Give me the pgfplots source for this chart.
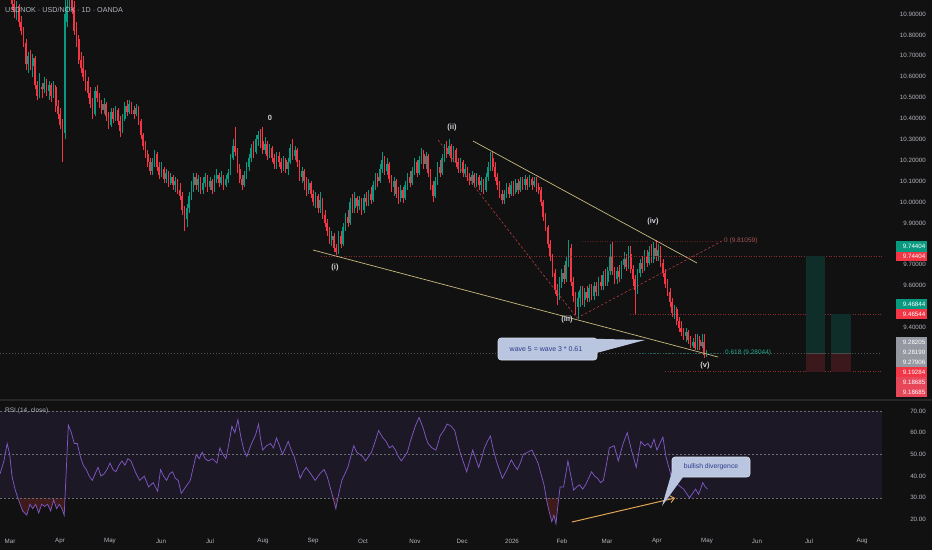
\documentclass[border=0pt]{standalone}
\usepackage{pgfplots}
\pgfplotsset{compat=1.18}
\usepackage{pgfplotstable}
\usetikzlibrary{arrows.meta}
\usepackage{fontspec}
\setmainfont{Liberation Sans}
\definecolor{bg}{HTML}{111111}
\definecolor{upc}{HTML}{089981}
\definecolor{dnc}{HTML}{F23645}
\definecolor{txt}{HTML}{B2B5BE}
\definecolor{trend}{HTML}{C8BA80}
\definecolor{rsic}{HTML}{7E57C2}
\definecolor{band}{HTML}{1C1826}
\definecolor{oversold}{HTML}{3E1A1A}
\definecolor{hred}{HTML}{8C2A2E}
\definecolor{dred}{HTML}{B23A40}
\definecolor{callfill}{HTML}{BAC6E0}
\definecolor{callt}{HTML}{2F3A8C}
\definecolor{arrowc}{HTML}{E0A458}
\definecolor{boxg}{HTML}{0F2E29}
\definecolor{boxr}{HTML}{3B181B}
\definecolor{fibt}{HTML}{22AB94}
\definecolor{lblgray}{HTML}{9598A1}
\definecolor{lblpink}{HTML}{E8475A}
\definecolor{wavet}{HTML}{D1D4DC}

\pgfplotstableread{
k o h l c
2 10.91 10.96 10.87 10.94
7 10.66 10.72 10.62 10.70
9 10.65 10.71 10.60 10.69
12 10.51 10.62 10.50 10.55
14 10.54 10.60 10.52 10.57
16 10.53 10.58 10.49 10.56
18 10.51 10.58 10.50 10.55
23 10.33 10.98 10.30 10.90
24 10.86 11.05 10.84 10.94
25 10.94 11.10 10.92 11.00
36 10.42 10.55 10.41 10.53
40 10.44 10.50 10.42 10.47
43 10.37 10.45 10.36 10.43
45 10.40 10.46 10.39 10.44
48 10.34 10.42 10.33 10.40
49 10.40 10.48 10.39 10.46
51 10.43 10.49 10.42 10.47
54 10.42 10.47 10.41 10.45
61 10.15 10.21 10.13 10.19
62 10.19 10.25 10.17 10.23
65 10.13 10.19 10.12 10.16
67 10.11 10.16 10.09 10.14
69 10.09 10.14 10.08 10.12
71 10.08 10.12 10.05 10.10
76 9.92 9.99 9.88 9.97
77 9.97 10.05 9.95 10.03
78 10.03 10.10 10.01 10.08
79 10.08 10.14 10.05 10.12
81 10.08 10.13 10.05 10.11
83 10.06 10.12 10.04 10.09
84 10.09 10.14 10.07 10.12
86 10.07 10.12 10.06 10.10
88 10.06 10.13 10.05 10.11
89 10.11 10.16 10.09 10.13
91 10.09 10.15 10.08 10.12
93 10.08 10.13 10.07 10.11
94 10.11 10.16 10.09 10.14
95 10.14 10.23 10.13 10.21
96 10.21 10.30 10.20 10.27
101 10.08 10.15 10.07 10.13
102 10.13 10.19 10.11 10.17
103 10.17 10.23 10.15 10.21
104 10.21 10.28 10.19 10.26
106 10.24 10.32 10.23 10.30
107 10.30 10.34 10.27 10.32
110 10.25 10.31 10.23 10.28
112 10.22 10.28 10.21 10.26
115 10.18 10.24 10.16 10.22
118 10.16 10.22 10.15 10.20
120 10.16 10.21 10.13 10.19
121 10.19 10.28 10.18 10.26
123 10.22 10.27 10.20 10.25
126 10.12 10.17 10.09 10.15
129 10.06 10.11 10.04 10.09
132 10.00 10.05 9.97 10.03
134 9.97 10.05 9.95 10.01
139 9.82 9.86 9.79 9.84
142 9.76 9.86 9.75 9.84
144 9.80 9.90 9.79 9.88
145 9.88 9.95 9.86 9.93
147 9.90 10.02 9.89 10.00
149 9.97 10.05 9.95 10.02
151 9.98 10.03 9.96 10.01
153 9.96 10.04 9.95 10.02
155 10.00 10.06 9.98 10.04
157 10.01 10.10 10.00 10.08
158 10.08 10.14 10.06 10.12
160 10.10 10.18 10.09 10.16
161 10.16 10.24 10.14 10.20
163 10.15 10.21 10.13 10.18
166 10.07 10.12 10.03 10.10
169 10.02 10.08 10.00 10.06
171 10.02 10.10 10.01 10.08
172 10.08 10.14 10.06 10.12
174 10.09 10.17 10.08 10.15
175 10.15 10.21 10.13 10.19
177 10.14 10.22 10.13 10.20
178 10.20 10.26 10.18 10.23
180 10.18 10.24 10.16 10.22
184 10.03 10.12 10.02 10.10
185 10.10 10.19 10.08 10.17
187 10.14 10.23 10.13 10.21
188 10.21 10.28 10.19 10.26
190 10.23 10.30 10.22 10.27
192 10.21 10.27 10.19 10.25
195 10.16 10.21 10.14 10.19
197 10.14 10.18 10.12 10.16
200 10.10 10.15 10.08 10.13
202 10.09 10.14 10.07 10.12
204 10.08 10.12 10.05 10.10
206 10.06 10.14 10.05 10.12
207 10.12 10.19 10.10 10.17
208 10.17 10.24 10.15 10.21
214 10.01 10.06 9.99 10.04
215 10.04 10.09 10.02 10.07
217 10.04 10.10 10.03 10.08
219 10.05 10.11 10.04 10.09
221 10.06 10.12 10.05 10.10
223 10.08 10.13 10.06 10.11
225 10.08 10.13 10.07 10.11
227 10.08 10.12 10.07 10.10
238 9.55 9.64 9.53 9.62
239 9.62 9.68 9.59 9.66
241 9.63 9.74 9.62 9.72
242 9.72 9.82 9.69 9.78
246 9.50 9.57 9.44 9.54
247 9.54 9.60 9.50 9.58
249 9.53 9.59 9.50 9.57
251 9.54 9.61 9.52 9.59
253 9.55 9.62 9.53 9.60
255 9.57 9.64 9.55 9.62
257 9.60 9.67 9.58 9.65
259 9.62 9.69 9.60 9.67
260 9.67 9.80 9.65 9.74
263 9.63 9.69 9.61 9.67
265 9.64 9.72 9.63 9.70
266 9.70 9.76 9.68 9.73
268 9.69 9.79 9.68 9.75
272 9.58 9.68 9.56 9.66
273 9.66 9.73 9.64 9.71
275 9.68 9.77 9.67 9.74
277 9.71 9.79 9.70 9.76
279 9.73 9.81 9.71 9.78
281 9.74 9.80 9.72 9.77
288 9.47 9.51 9.44 9.49
293 9.36 9.40 9.33 9.38
296 9.31 9.35 9.30 9.33
298 9.30 9.37 9.29 9.34
300 9.31 9.37 9.30 9.33
302 9.27 9.29 9.26 9.28
}\up

\pgfplotstableread{
k o h l c
0 11.02 11.05 10.92 10.95
1 10.95 10.98 10.88 10.91
3 10.94 10.95 10.84 10.86
4 10.86 10.89 10.80 10.82
5 10.82 10.84 10.74 10.76
6 10.76 10.78 10.63 10.66
8 10.70 10.73 10.63 10.65
10 10.69 10.70 10.54 10.56
11 10.56 10.58 10.49 10.51
13 10.55 10.57 10.50 10.54
15 10.57 10.59 10.51 10.53
17 10.56 10.57 10.48 10.51
19 10.55 10.56 10.43 10.46
20 10.46 10.49 10.40 10.42
21 10.42 10.45 10.35 10.37
22 10.37 10.40 10.19 10.33
26 11.00 11.08 10.90 10.93
27 10.93 10.96 10.80 10.82
28 10.82 10.86 10.74 10.78
29 10.78 10.80 10.66 10.68
30 10.68 10.72 10.62 10.64
31 10.64 10.70 10.58 10.60
32 10.60 10.63 10.53 10.58
33 10.58 10.60 10.50 10.52
34 10.52 10.55 10.45 10.47
35 10.47 10.50 10.40 10.42
37 10.53 10.56 10.48 10.50
38 10.50 10.52 10.45 10.47
39 10.47 10.49 10.42 10.44
41 10.47 10.48 10.39 10.41
42 10.41 10.43 10.35 10.37
44 10.43 10.45 10.38 10.40
46 10.44 10.45 10.37 10.39
47 10.39 10.41 10.31 10.34
50 10.46 10.49 10.41 10.43
52 10.47 10.48 10.42 10.44
53 10.44 10.46 10.40 10.42
55 10.45 10.46 10.37 10.39
56 10.39 10.40 10.30 10.32
57 10.32 10.33 10.25 10.27
58 10.27 10.29 10.21 10.23
59 10.23 10.25 10.17 10.19
60 10.19 10.21 10.13 10.15
63 10.23 10.24 10.15 10.17
64 10.17 10.19 10.11 10.13
66 10.16 10.17 10.09 10.11
68 10.14 10.15 10.07 10.09
70 10.12 10.13 10.06 10.08
72 10.10 10.11 10.04 10.06
73 10.06 10.09 10.01 10.03
74 10.03 10.05 9.94 9.96
75 9.96 9.98 9.86 9.92
80 10.12 10.14 10.06 10.08
82 10.11 10.12 10.04 10.06
85 10.12 10.13 10.05 10.07
87 10.10 10.11 10.04 10.06
90 10.13 10.14 10.07 10.09
92 10.12 10.13 10.06 10.08
97 10.27 10.36 10.22 10.24
98 10.24 10.26 10.14 10.16
99 10.16 10.18 10.09 10.11
100 10.11 10.13 10.06 10.08
105 10.26 10.29 10.21 10.24
108 10.32 10.35 10.26 10.29
109 10.29 10.36 10.23 10.25
111 10.28 10.29 10.20 10.22
113 10.26 10.27 10.19 10.21
114 10.21 10.23 10.16 10.18
116 10.22 10.24 10.17 10.19
117 10.19 10.21 10.14 10.16
119 10.20 10.21 10.14 10.16
122 10.26 10.30 10.20 10.22
124 10.25 10.26 10.17 10.19
125 10.19 10.20 10.10 10.12
127 10.15 10.16 10.06 10.10
128 10.10 10.12 10.03 10.06
130 10.09 10.10 10.02 10.04
131 10.04 10.06 9.98 10.00
133 10.03 10.04 9.95 9.97
135 10.01 10.02 9.92 9.94
136 9.94 9.96 9.88 9.90
137 9.90 9.92 9.84 9.86
138 9.86 9.88 9.80 9.82
140 9.84 9.85 9.76 9.78
141 9.78 9.80 9.745 9.76
143 9.84 9.86 9.78 9.80
146 9.93 9.96 9.88 9.90
148 10.00 10.04 9.95 9.97
150 10.02 10.03 9.95 9.98
152 10.01 10.02 9.94 9.96
154 10.02 10.05 9.98 10.00
156 10.04 10.07 9.99 10.01
159 10.12 10.14 10.07 10.10
162 10.20 10.22 10.13 10.15
164 10.18 10.19 10.09 10.11
165 10.11 10.13 10.05 10.07
167 10.10 10.11 10.02 10.04
168 10.04 10.07 9.99 10.02
170 10.06 10.07 9.995 10.02
173 10.12 10.15 10.07 10.09
176 10.19 10.20 10.12 10.14
179 10.23 10.25 10.16 10.18
181 10.22 10.23 10.12 10.14
182 10.14 10.16 10.06 10.08
183 10.08 10.10 10.00 10.03
186 10.17 10.20 10.12 10.14
189 10.26 10.29 10.21 10.23
191 10.27 10.28 10.19 10.21
193 10.25 10.26 10.17 10.19
194 10.19 10.21 10.14 10.16
196 10.19 10.20 10.12 10.14
198 10.16 10.17 10.10 10.12
199 10.12 10.14 10.08 10.10
201 10.13 10.14 10.07 10.09
203 10.12 10.13 10.06 10.08
205 10.10 10.11 10.04 10.06
209 10.21 10.245 10.15 10.17
210 10.17 10.19 10.10 10.12
211 10.12 10.14 10.06 10.08
212 10.08 10.10 10.02 10.04
213 10.04 10.06 9.99 10.01
216 10.07 10.09 10.02 10.04
218 10.08 10.10 10.03 10.05
220 10.09 10.11 10.04 10.06
222 10.10 10.12 10.06 10.08
224 10.11 10.12 10.06 10.08
226 10.11 10.12 10.06 10.08
228 10.10 10.12 10.05 10.07
229 10.07 10.09 10.04 10.06
230 10.06 10.07 9.98 10.00
231 10.00 10.01 9.91 9.93
232 9.93 9.95 9.86 9.88
233 9.88 9.89 9.78 9.80
234 9.80 9.82 9.72 9.74
235 9.74 9.75 9.64 9.66
236 9.66 9.68 9.56 9.58
237 9.58 9.61 9.51 9.55
240 9.66 9.70 9.61 9.63
243 9.78 9.80 9.60 9.62
244 9.62 9.64 9.52 9.55
245 9.55 9.57 9.46 9.50
248 9.58 9.60 9.51 9.53
250 9.57 9.60 9.52 9.54
252 9.59 9.61 9.53 9.55
254 9.60 9.62 9.55 9.57
256 9.62 9.65 9.58 9.60
258 9.65 9.68 9.60 9.62
261 9.74 9.81 9.65 9.67
262 9.67 9.69 9.61 9.63
264 9.67 9.70 9.62 9.64
267 9.73 9.75 9.67 9.69
269 9.75 9.79 9.66 9.68
270 9.68 9.70 9.60 9.63
271 9.63 9.65 9.46 9.58
274 9.71 9.74 9.66 9.68
276 9.74 9.77 9.69 9.71
278 9.76 9.80 9.71 9.73
280 9.78 9.82 9.72 9.74
282 9.77 9.79 9.69 9.71
283 9.71 9.73 9.64 9.66
284 9.66 9.68 9.59 9.61
285 9.61 9.63 9.55 9.57
286 9.57 9.59 9.50 9.52
287 9.52 9.54 9.45 9.47
289 9.49 9.50 9.41 9.43
290 9.43 9.45 9.38 9.40
291 9.40 9.43 9.36 9.38
292 9.38 9.40 9.34 9.36
294 9.38 9.39 9.32 9.34
295 9.34 9.36 9.30 9.31
297 9.33 9.37 9.29 9.30
299 9.34 9.36 9.29 9.31
301 9.33 9.37 9.255 9.27
}\dn

\pgfplotstableread{
k r
-5.2 41
-3.5 47
-2.1 55
-1.0 50
0 40
1.3 34
2.5 30
4.6 24
6.4 22
7.8 27
9.0 25
10.3 27
11.6 23
12.9 27
14.2 26
15.5 27
16.8 24
18.1 29
19.4 25
20.6 27
21.7 25
22.7 22
24.5 63.5
25.8 60
27.1 55
28.4 55
29.7 49
31.0 45
32.3 43
33.6 40
34.9 38
36.1 41
37.4 44
38.7 40
40.0 41
41.3 43
42.6 46
43.9 43
45.2 42
46.5 45
47.8 47
49.1 45
50.4 48
51.7 47
53.6 42
55.5 38
57.5 40
59.4 35
61.4 37
63.3 33
64.6 43
65.9 40
67.2 38
68.5 41
69.8 42
71.0 39
72.3 38
73.6 32
75.5 35
77.5 38
78.8 44
80.1 50
81.4 48
82.7 51
84.0 48
85.3 47
87.2 48
89.1 46
90.4 53
91.7 50
93.0 48
94.3 55
95.6 63
96.9 60
98.2 66
99.5 58
100.8 52
102.1 49
103.4 53
104.6 56
105.9 59
107.2 64
108.1 57
109.0 52
110.7 54
112.4 55
113.7 53
115.0 57.6
116.3 54
117.6 50
118.9 53
120.1 56
121.4 52
122.7 49
124.0 44
125.3 39
126.6 42
127.9 44
129.9 41
131.8 38
133.8 41
135.7 43
137.0 40
138.3 35
139.6 30
140.8 25
142.1 32
143.4 38
144.7 41
146.0 44
147.3 49
148.6 54
149.9 51
151.2 50
152.5 49
153.7 47
155.0 49
156.3 51
157.9 56
159.4 61
161.0 58
162.6 56
164.1 53
165.4 54
166.7 52
168.0 49
169.3 47
170.6 49
171.9 51
173.2 56
174.4 60
175.7 64
177.0 67
178.8 62
179.9 58
180.9 55
182.6 53
184.3 52
185.2 55
186.1 58.5
187.7 61
189.2 64
190.9 63
192.5 61
193.8 55
195.1 50
196.4 46
197.7 42
199.0 47
200.3 52
201.6 48
202.9 44
204.1 48
205.4 53
206.7 56
208.0 58.5
209.3 52
210.6 47
211.9 43
213.2 39
215.2 43
217.1 47.5
218.4 45
219.7 43
221.0 46
222.3 50
224.2 51
226.1 52
227.4 49
228.7 46
230.0 41
231.3 36
232.6 28
233.7 23
234.7 19
235.6 22
236.5 18
237.4 27
238.3 35
239.8 35
240.8 41
241.7 47
243.0 40
244.2 33.5
245.5 35
246.8 36
248.1 34
249.4 36
250.7 39
252.0 42
253.3 40
254.6 39
255.9 37
257.1 38
258.4 45
259.7 53
261.8 54
263.6 47
265.7 55
267.5 60
269.3 52
270.4 48
271.4 44
272.4 50
273.4 56
275.0 54
276.5 55
277.8 53
279.1 57
280.4 52
281.7 55
283.0 58
284.3 49
285.6 44
286.9 39
288.2 38
289.5 36
290.8 35
292.0 34
293.3 32
294.6 30
295.9 32
297.2 34
298.5 31.6
299.4 34
300.3 37
301.4 35
302.4 34
}\rsi

\pagecolor{bg}
\begin{document}
\begin{tikzpicture}

% ---------------- price panel ----------------
\begin{axis}[
  at={(0pt,152pt)}, anchor=south west, scale only axis,
  width=882pt, height=398pt,
  xmin=-5.217, xmax=378.26, ymin=9.0627, ymax=10.967,
  axis line style={draw=none}, major tick length=0pt,
  xtick=\empty,
  ytick={9.4,9.6,9.7,9.9,10.0,10.1,10.2,10.3,10.4,10.5,10.6,10.7,10.8,10.9},
  scaled y ticks=false,
  yticklabel pos=right,
  yticklabel style={font=\fontsize{6.2}{7}\selectfont, text=txt, anchor=east, xshift=44pt, inner sep=0pt,
    /pgf/number format/.cd, fixed, fixed zerofill, precision=5, assume math mode=true},
  clip=true,
]
\addplot[draw=none, mark=none, forget plot,
  error bars/.cd, y dir=plus, y explicit, error mark=none,
  error bar style={draw=upc, line width=0.55pt}]
  table[x=k, y=l, y error expr=\thisrow{h}-\thisrow{l}] {\up};
\addplot[draw=none, mark=none, forget plot,
  error bars/.cd, y dir=plus, y explicit, error mark=none,
  error bar style={draw=upc, line width=1.7pt}]
  table[x=k, y=o, y error expr=\thisrow{c}-\thisrow{o}] {\up};
\addplot[draw=none, mark=none, forget plot,
  error bars/.cd, y dir=plus, y explicit, error mark=none,
  error bar style={draw=dnc, line width=0.55pt}]
  table[x=k, y=l, y error expr=\thisrow{h}-\thisrow{l}] {\dn};
\addplot[draw=none, mark=none, forget plot,
  error bars/.cd, y dir=plus, y explicit, error mark=none,
  error bar style={draw=dnc, line width=1.7pt}]
  table[x=k, y=c, y error expr=\thisrow{o}-\thisrow{c}] {\dn};
\end{axis}

% ---------------- RSI panel ----------------
\begin{axis}[
  at={(0pt,22pt)}, anchor=south west, scale only axis,
  width=882pt, height=126pt,
  xmin=-5.217, xmax=378.26, ymin=16.08, ymax=74.15,
  axis line style={draw=none}, major tick length=0pt,
  ytick={20,30,40,50,60,70},
  yticklabel pos=right,
  yticklabel style={font=\fontsize{6.2}{7}\selectfont, text=txt, anchor=east, xshift=44pt, inner sep=0pt,
    /pgf/number format/.cd, fixed, fixed zerofill, precision=2, assume math mode=true},
  xtick={-0.87,20.87,42.6,64.8,86.1,109.1,130.9,152.6,175.2,195.7,217.4,239.1,258.7,280.4,302.2,323.9,346.5,369.6},
  xticklabels={Mar,Apr,May,Jun,Jul,Aug,Sep,Oct,Nov,Dec,2026,Feb,Mar,Apr,May,Jun,Jul,Aug},
  xticklabel style={font=\fontsize{6.2}{7}\selectfont, text=txt, anchor=center, yshift=-13pt},
  clip=true,
]
% oversold zone: red strip below 30, then background painted under the RSI curve
\fill[oversold] (axis cs:-5.0,16.08) rectangle (axis cs:302.0,30);
\addplot[fill=bg, draw=none, forget plot] table[x=k, y=r] {\rsi} \closedcycle;
\fill[band] (axis cs:-5.217,30) rectangle (axis cs:378.26,70);
\draw[txt!60!black, dash pattern=on 2pt off 2pt, line width=0.5pt] (axis cs:-5.217,70) -- (axis cs:378.26,70);
\draw[txt!60!black, dash pattern=on 2pt off 2pt, line width=0.5pt] (axis cs:-5.217,50) -- (axis cs:378.26,50);
\draw[txt!60!black, dash pattern=on 2pt off 2pt, line width=0.5pt] (axis cs:-5.217,30) -- (axis cs:378.26,30);
\addplot[rsic, line width=0.75pt, mark=none] table[x=k, y=r] {\rsi};
\end{axis}

\begin{scope}[x=1pt,y=1pt]
% panel separator
\fill[black!85!white] (0,149) rectangle (932,151.5);

% current price line
\draw[txt!45!black, dash pattern=on 1pt off 2pt, line width=0.5pt] (0,197) -- (882,197);
% horizontal levels
\draw[hred, dash pattern=on 1pt off 1.5pt, line width=0.6pt] (321,294) -- (882,294);
\draw[hred!70!black, dash pattern=on 1pt off 1.5pt, line width=0.5pt] (582,309) -- (720,309);
\draw[hred, dash pattern=on 1pt off 1.5pt, line width=0.6pt] (630,236) -- (882,236);
\draw[hred, dash pattern=on 1pt off 1.5pt, line width=0.6pt] (665,178.5) -- (882,178.5);
\draw[fibt!60!black, dash pattern=on 1pt off 1.5pt, line width=0.5pt] (640,197) -- (720,197);
% trendlines
\draw[trend, line width=0.7pt] (313,300) -- (718,193);
\draw[trend, line width=0.7pt] (473,409) -- (697,287);
% wave dashed lines
\draw[dred, dash pattern=on 2.5pt off 2pt, line width=0.6pt] (438,410) -- (577,232);
\draw[dred, dash pattern=on 2.5pt off 2pt, line width=0.6pt] (577,232) -- (722,309);

% position boxes
\fill[boxg] (806,197) rectangle (825,294);
\fill[boxr] (806,178) rectangle (825,197);
\fill[boxg] (831,197) rectangle (851,236);
\fill[boxr] (831,178) rectangle (851,197);
\draw[txt!40!black, line width=0.5pt] (806,197) -- (825,197);
\draw[txt!40!black, line width=0.5pt] (831,197) -- (851,197);

% wave labels
\begin{scope}[every node/.style={text=wavet, font=\fontsize{7.5}{8}\selectfont\bfseries, inner sep=0pt}]
\node at (270,432) {0};
\node at (335,282) {(i)};
\node at (452,422) {(ii)};
\node at (567,230) {(iii)};
\node at (653,328) {(iv)};
\node at (705,184) {(v)};
\end{scope}

% fib labels
\node[anchor=west, inner sep=0pt, text=hred!80!white, font=\fontsize{6.5}{7}\selectfont] at (724,309) {0 (9.81059)};
\node[anchor=west, inner sep=0pt, text=fibt, font=\fontsize{6.5}{7}\selectfont] at (725,197) {0.618 (9.28044)};

% wave callout
\filldraw[fill=callfill, draw=callfill!60!white, line width=0.6pt, rounded corners=3pt] (498,190) rectangle (597,212);
\fill[callfill] (588,211.4) -- (645,210) -- (596.4,197) -- cycle;
\node[text=callt, font=\fontsize{7}{8}\selectfont, inner sep=0pt] at (546,201) {wave 5 = wave 3 * 0.61};

% titles
\node[anchor=west, text=txt, font=\fontsize{7.2}{8}\selectfont, inner sep=0pt] at (5,540) {USDNOK · USD/NOK · 1D · OANDA};
\node[anchor=west, text=txt, font=\fontsize{6.5}{7}\selectfont, inner sep=0pt] at (5,139) {RSI (14, close)};

% right price labels
\begin{scope}[every node/.style={font=\fontsize{6.2}{7}\selectfont, text=white, inner sep=0pt, anchor=east}]
\fill[upc] (896,298.5) rectangle (927,309);
\node at (925.5,303.7) {9.74404};
\fill[dnc] (896,289) rectangle (927,298.5);
\node at (925.5,293.7) {9.74404};
\fill[upc] (896,241) rectangle (927,251);
\node at (925.5,246) {9.46844};
\fill[dnc] (896,231) rectangle (927,241);
\node at (925.5,236) {9.46544};
\fill[lblgray] (896,183) rectangle (927,213);
\node at (925.5,207.5) {9.28205};
\node at (925.5,197.8) {9.28190};
\node at (925.5,188) {9.27906};
\fill[dnc] (896,173) rectangle (927,183);
\node at (925.5,178) {9.19284};
\fill[lblpink] (896,153) rectangle (927,173);
\node at (925.5,168) {9.18685};
\node at (925.5,158) {9.18685};
\end{scope}

% RSI drawings
\draw[arrowc, line width=1pt, -{Straight Barb[length=4pt, width=7pt]}] (572,28) -- (675,52);
\filldraw[fill=callfill, draw=callfill!60!white, line width=0.6pt, rounded corners=3pt] (672,73) rectangle (750,93);
\fill[callfill] (672.6,80.5) -- (683.5,73.6) -- (662,44) -- cycle;
\node[text=callt, font=\fontsize{6.8}{8}\selectfont, inner sep=0pt] at (711,83) {bullish divergence};
\end{scope}

\pgfresetboundingbox
\path[use as bounding box] (0pt,0pt) rectangle (932pt,550pt);
\end{tikzpicture}
\end{document}
